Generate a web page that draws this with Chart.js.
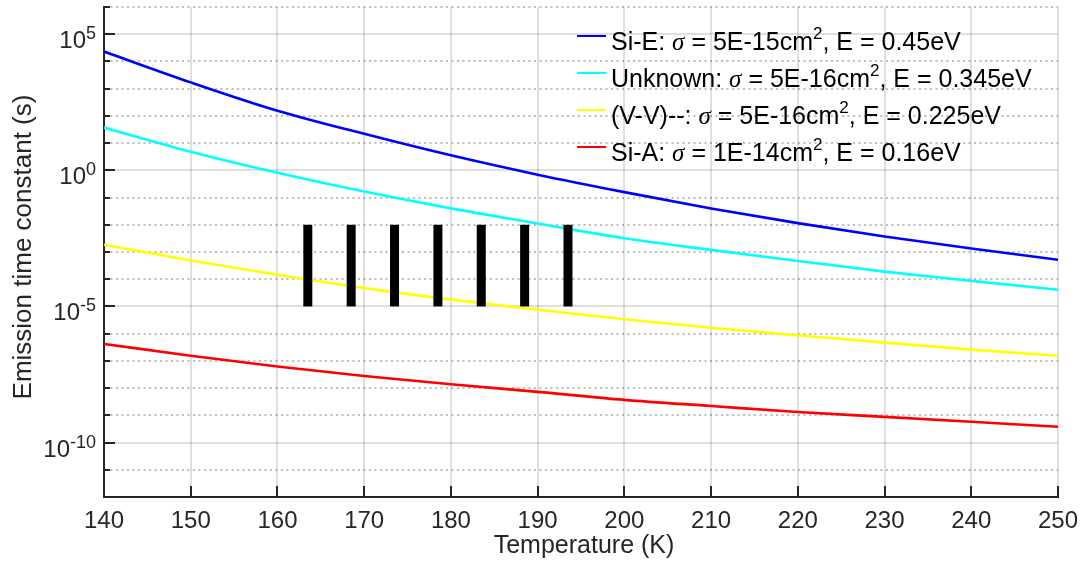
<!DOCTYPE html>
<html>
<head>
<meta charset="utf-8">
<script src="https://cdn.jsdelivr.net/npm/chart.js@4.4.0/dist/chart.umd.min.js"></script>
<style>
    html, body { margin: 0; padding: 0; background: #fff; }
    #wrap { width: 1085px; height: 566px; }
</style>
</head>
<body>
<div id="wrap"><canvas id="tauChart"></canvas></div>
<script>
// Temperature grid (K) and emission time constants (s)
const temps = [140, 150, 160, 170, 180, 190, 200, 210, 220, 230, 240, 250];
const siE = [2.3e4, 1.7e3, 155, 21.9, 3.55, 0.69, 0.158, 0.0398, 0.0115, 3.7e-3, 1.35e-3, 5.2e-4];
const unknown = [37.2, 4.8, 0.81, 0.166, 0.040, 0.0112, 3.2e-3, 1.2e-3, 4.7e-4, 1.9e-4, 8.7e-5, 4.1e-5];
const vv = [1.86e-3, 4.9e-4, 1.45e-4, 4.7e-5, 1.78e-5, 7.6e-6, 3.4e-6, 1.66e-6, 8.7e-7, 4.7e-7, 2.6e-7, 1.55e-7];
const siA = [4.2e-7, 1.55e-7, 6.2e-8, 2.8e-8, 1.38e-8, 7.3e-9, 3.7e-9, 2.2e-9, 1.32e-9, 8.8e-10, 5.8e-10, 3.8e-10];

// black marker bars
const barTemps = [163.5, 168.5, 173.5, 178.5, 183.5, 188.5, 193.5];
const barLow = 1e-5;
const barHigh = 1e-2;

// axes
const xTicks = [140, 150, 160, 170, 180, 190, 200, 210, 220, 230, 240, 250];
const yExps = [-12, -11, -10, -9, -8, -7, -6, -5, -4, -3, -2, -1, 0, 1, 2, 3, 4, 5, 6];
const yMajorExps = [-10, -5, 0, 5];

// legend text parts
const legendNames = ['Si-E', 'Unknown', '(V-V)--', 'Si-A'];
const legendSigmas = ['5E-15', '5E-16', '5E-16', '1E-14'];
const legendEnergies = ['0.45', '0.345', '0.225', '0.16'];
const seriesColors = ['#0000ff', '#00ffff', '#ffff00', '#ff0000'];

const FONT = '"Liberation Sans", Arial, sans-serif';
const AXIS_COLOR = '#262626';

const toPoints = vals => temps.map((t, i) => ({ x: t, y: vals[i] }));
const isMajor = v => yMajorExps.includes(Math.round(Math.log10(v)));

const curveSets = [siE, unknown, vv, siA].map((vals, i) => ({
    label: legendNames[i],
    data: toPoints(vals),
    borderColor: seriesColors[i],
    borderWidth: 2.6,
    pointRadius: 0,
    cubicInterpolationMode: 'monotone',
    order: 1
}));

const barSets = barTemps.map(t => ({
    label: 'bar ' + t,
    data: [{ x: t, y: barLow }, { x: t, y: barHigh }],
    borderColor: '#000',
    borderWidth: 9,
    borderCapStyle: 'butt',
    pointRadius: 0,
    order: 0
}));

/**
 * Inward ticks, tick labels with superscripts, axis titles, legend
 */
const decorPlugin = {
    id: 'decor',
    afterDraw(chart) {
        const { ctx, chartArea, scales } = chart;
        const xs = scales.x, ys = scales.y;
        ctx.save();

        // inward ticks
        ctx.strokeStyle = AXIS_COLOR;
        ctx.lineWidth = 2;
        ctx.beginPath();
        yExps.forEach(e => {
            const py = Math.round(ys.getPixelForValue(Math.pow(10, e)));
            const len = yMajorExps.includes(e) ? 11 : 6;
            ctx.moveTo(chartArea.left, py);
            ctx.lineTo(chartArea.left + len, py);
        });
        xTicks.forEach(t => {
            const px = Math.round(xs.getPixelForValue(t));
            ctx.moveTo(px, chartArea.bottom);
            ctx.lineTo(px, chartArea.bottom - 11);
        });
        ctx.stroke();

        // x tick labels
        ctx.fillStyle = AXIS_COLOR;
        ctx.font = '24px ' + FONT;
        ctx.textAlign = 'center';
        ctx.textBaseline = 'alphabetic';
        xTicks.forEach(t => {
            ctx.fillText(String(t), xs.getPixelForValue(t), chartArea.bottom + 31);
        });

        // y tick labels 10^n
        ctx.textAlign = 'left';
        yMajorExps.forEach(e => {
            const py = ys.getPixelForValue(Math.pow(10, e));
            ctx.font = '18px ' + FONT;
            const sup = String(e);
            const wSup = ctx.measureText(sup).width;
            ctx.font = '24px ' + FONT;
            const wMain = ctx.measureText('10').width;
            const x0 = chartArea.left - 8 - wSup - wMain;
            ctx.fillText('10', x0, py + 14);
            ctx.font = '18px ' + FONT;
            ctx.fillText(sup, x0 + wMain, py + 5);
        });

        // axis titles
        ctx.font = '25px ' + FONT;
        ctx.textAlign = 'center';
        ctx.fillText('Temperature (K)', 584, 553);
        ctx.save();
        ctx.font = '26px ' + FONT;
        ctx.translate(31, 247);
        ctx.rotate(-Math.PI / 2);
        ctx.fillText('Emission time constant (s)', 0, 0);
        ctx.restore();

        // legend
        ctx.textAlign = 'left';
        let rowY = 36;
        legendNames.forEach((name, i) => {
            ctx.strokeStyle = seriesColors[i];
            ctx.lineWidth = 2;
            ctx.beginPath();
            ctx.moveTo(577, rowY);
            ctx.lineTo(606, rowY);
            ctx.stroke();

            const base = rowY + 14;
            let x = 611;
            const put = (txt, font, dy) => {
                ctx.font = font;
                ctx.fillStyle = '#000';
                ctx.fillText(txt, x, base + (dy || 0));
                x += ctx.measureText(txt).width;
            };
            put(name + ': ', '25px ' + FONT);
            put('\u03c3', 'italic 25px "Liberation Serif", serif');
            put(' = ' + legendSigmas[i] + 'cm', '25px ' + FONT);
            put('2', '17px ' + FONT, -11);
            put(', E = ' + legendEnergies[i] + 'eV', '25px ' + FONT);
            rowY += 37;
        });

        ctx.restore();
    }
};

new Chart(document.getElementById('tauChart'), {
    type: 'line',
    data: { datasets: [...barSets, ...curveSets] },
    options: {
        responsive: true,
        maintainAspectRatio: false,
        animation: false,
        layout: { padding: { left: 0, right: 27, top: 7, bottom: 0 } },
        plugins: {
            legend: { display: false },
            tooltip: { enabled: false }
        },
        scales: {
            x: {
                type: 'linear',
                min: 140,
                max: 250,
                afterBuildTicks: scale => { scale.ticks = xTicks.map(v => ({ value: v })); },
                afterFit: scale => { scale.height = 69; },
                ticks: { display: false },
                grid: { color: 'rgba(38,38,38,0.15)', lineWidth: 2, drawTicks: false },
                border: { display: true, color: AXIS_COLOR, width: 2 }
            },
            y: {
                type: 'logarithmic',
                min: 1e-12,
                max: 1e6,
                afterBuildTicks: scale => { scale.ticks = yExps.map(e => ({ value: Math.pow(10, e) })); },
                afterFit: scale => { scale.width = 104; },
                ticks: { display: false },
                grid: {
                    drawTicks: false,
                    lineWidth: 2,
                    color: c => (c.tick && isMajor(c.tick.value)) ? 'rgba(38,38,38,0.15)' : 'rgba(38,38,38,0.3)'
                },
                border: {
                    display: true,
                    color: AXIS_COLOR,
                    width: 2,
                    dash: c => (c.tick && !isMajor(c.tick.value)) ? [2, 3.5] : []
                }
            }
        }
    },
    plugins: [decorPlugin]
});
</script>
</body>
</html>
